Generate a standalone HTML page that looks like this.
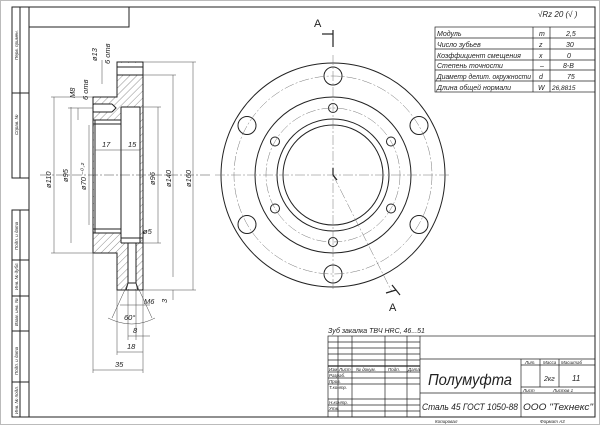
<!DOCTYPE html>
<html><head><meta charset="utf-8"><style>
html,body{margin:0;padding:0;background:#fff}
svg{display:block}
text{font-family:"Liberation Sans","DejaVu Sans",sans-serif;font-style:italic;fill:#222}
</style></head><body>
<svg width="600" height="425" viewBox="0 0 600 425" xmlns="http://www.w3.org/2000/svg">
<defs>
<pattern id="h" width="5" height="5" patternUnits="userSpaceOnUse" patternTransform="rotate(45)">
<line x1="0" y1="0" x2="0" y2="5" stroke="#444" stroke-width="0.6"/></pattern>
</defs>
<rect x="0.5" y="0.5" width="599" height="424" fill="#fff" stroke="#bbb"/>
<g stroke="#222" fill="none" stroke-width="1">
<rect x="29" y="7" width="566" height="410"/>
<rect x="29" y="7" width="100" height="20"/>
<rect x="12" y="7" width="17" height="171"/><line x1="20" y1="7" x2="20" y2="178"/><line x1="12" y1="93" x2="29" y2="93"/>
<rect x="12" y="210" width="17" height="207"/><line x1="20" y1="210" x2="20" y2="417"/>
<line x1="12" y1="260" x2="29" y2="260"/><line x1="12" y1="296" x2="29" y2="296"/><line x1="12" y1="331" x2="29" y2="331"/><line x1="12" y1="382" x2="29" y2="382"/>
</g>
<g font-size="4.5" fill="#444">
<text transform="translate(18,60) rotate(-90)">Перв. примен.</text>
<text transform="translate(18,135) rotate(-90)">Справ. №</text>
<text transform="translate(18,250) rotate(-90)">Подп. и дата</text>
<text transform="translate(18,290) rotate(-90)">Инв. № дубл.</text>
<text transform="translate(18,326) rotate(-90)">Взам. инв. №</text>
<text transform="translate(18,375) rotate(-90)">Подп. и дата</text>
<text transform="translate(18,414) rotate(-90)">Инв. № подл.</text>
</g>
<g stroke="#222" stroke-width="1">
<path d="M117 62H143V290H117V253H93V97H117Z" fill="url(#h)"/>
<rect x="94" y="120" width="27" height="113" fill="#fff" stroke="none"/>
<rect x="121" y="107" width="19" height="136" fill="#fff" stroke="none"/>
<rect x="117.5" y="63" width="25" height="12" fill="#fff" stroke="none"/>
<rect x="128" y="243" width="8" height="46" fill="#fff" stroke="none"/>
<rect x="94" y="104" width="20" height="8" fill="#fff" stroke="none"/>
<path d="M117 62H143V290H117V253H93V97H117Z" fill="none"/>
<line x1="117" y1="67" x2="143" y2="67"/><line x1="117" y1="75" x2="143" y2="75"/>
<line x1="93" y1="104" x2="112" y2="104"/><line x1="93" y1="112" x2="112" y2="112"/><path d="M112 104L116 108L112 112" fill="none"/>
<line x1="95" y1="120" x2="95" y2="233"/><line x1="93" y1="120" x2="121" y2="120"/><line x1="93" y1="233" x2="121" y2="233"/>
<line x1="93" y1="124" x2="121" y2="124"/><line x1="93" y1="229" x2="121" y2="229"/>
<line x1="121" y1="107" x2="121" y2="243"/><line x1="121" y1="107" x2="140" y2="107"/><line x1="140" y1="107" x2="140" y2="243"/>
<line x1="121" y1="243" x2="143" y2="243"/><line x1="121" y1="238" x2="143" y2="238"/>
<line x1="128" y1="243" x2="128" y2="283"/><line x1="136" y1="243" x2="136" y2="283"/><path d="M126 290L128 283H136L138 290" fill="none"/>
</g>
<g stroke="#444" stroke-width="0.5" fill="none">
<line x1="193" y1="62" x2="193" y2="290"/><line x1="143" y1="62" x2="196" y2="62"/><line x1="143" y1="290" x2="196" y2="290"/>
<line x1="173" y1="75" x2="173" y2="277"/><line x1="143" y1="75" x2="176" y2="75"/>
<line x1="158" y1="107" x2="158" y2="243"/><line x1="140" y1="107" x2="161" y2="107"/><line x1="140" y1="243" x2="161" y2="243"/>
<line x1="54" y1="97" x2="54" y2="253"/><line x1="51" y1="97" x2="93" y2="97"/><line x1="51" y1="253" x2="93" y2="253"/>
<line x1="71" y1="107" x2="71" y2="243"/><line x1="68" y1="108" x2="93" y2="108"/>
<line x1="89" y1="125" x2="89" y2="225"/>
<line x1="102" y1="60" x2="102" y2="84"/><line x1="78" y1="108" x2="78" y2="120"/>
<line x1="93" y1="370" x2="143" y2="370"/><line x1="93" y1="253" x2="93" y2="373"/><line x1="143" y1="290" x2="143" y2="373"/>
<line x1="117" y1="352" x2="143" y2="352"/><line x1="117" y1="290" x2="117" y2="355"/>
<line x1="128" y1="336" x2="150" y2="336"/><line x1="128" y1="290" x2="128" y2="340"/><line x1="136" y1="290" x2="136" y2="340"/>
<path d="M108 318Q132 330 155 318"/><line x1="128" y1="283" x2="112" y2="318"/><line x1="136" y1="283" x2="152" y2="318"/>
<line x1="120" y1="305" x2="150" y2="305"/>
<line x1="95" y1="150" x2="140" y2="150"/>
<line x1="40" y1="175" x2="212" y2="175" stroke-dasharray="10 2 2 2"/>
<line x1="173" y1="290" x2="173" y2="300"/>
</g>
<g font-size="7.5">
<text transform="translate(51,188) rotate(-90)">ø110</text>
<text transform="translate(68,182) rotate(-90)">ø95</text>
<text transform="translate(86,190) rotate(-90)">ø70 ⁻⁰·²</text>
<text transform="translate(155,185) rotate(-90)">ø96</text>
<text transform="translate(171,187) rotate(-90)">ø140</text>
<text transform="translate(191,187) rotate(-90)">ø160</text>
<text transform="translate(97,61) rotate(-90)">ø13</text>
<text transform="translate(110,64) rotate(-90)">6 отв</text>
<text transform="translate(75,98) rotate(-90)">М8</text>
<text transform="translate(88,100) rotate(-90)">6 отв</text>
<text x="102" y="147">17</text><text x="128" y="147">15</text>
<text x="143" y="234">ø5</text><text x="144" y="304">М6</text>
<text transform="translate(167,303) rotate(-90)">3</text>
<text x="124" y="320">60°</text><text x="133" y="333">8</text><text x="127" y="349">18</text><text x="115" y="367">35</text>
</g>
<g fill="none" stroke="#222" stroke-width="1">
<circle cx="333" cy="175" r="112"/><circle cx="333" cy="175" r="78"/>
<circle cx="333" cy="175" r="56"/><circle cx="333" cy="175" r="50"/>
<circle cx="333" cy="76" r="9"/><circle cx="333" cy="274" r="9"/>
<circle cx="247" cy="125.5" r="9"/><circle cx="419" cy="125.5" r="9"/>
<circle cx="247" cy="224.5" r="9"/><circle cx="419" cy="224.5" r="9"/>
<circle cx="333" cy="108" r="4.5"/><circle cx="333" cy="242" r="4.5"/>
<circle cx="275" cy="141.5" r="4.5"/><circle cx="391" cy="141.5" r="4.5"/>
<circle cx="275" cy="208.5" r="4.5"/><circle cx="391" cy="208.5" r="4.5"/>
</g>
<g fill="none" stroke="#777" stroke-width="0.5" stroke-dasharray="10 2 2 2">
<circle cx="333" cy="175" r="99"/><circle cx="333" cy="175" r="67"/>
<line x1="215" y1="175" x2="451" y2="175"/><line x1="333" y1="55" x2="333" y2="290"/>
<line x1="333" y1="175" x2="392" y2="292"/>
</g>
<g stroke="#222" stroke-width="1.2" fill="none">
<line x1="333" y1="30" x2="333" y2="47"/><line x1="322" y1="34" x2="333" y2="34"/>
<line x1="333" y1="168" x2="333" y2="175"/><line x1="333" y1="175" x2="337" y2="180"/>
<line x1="392" y1="285" x2="400" y2="295"/><line x1="386" y1="293" x2="396" y2="290"/>
</g>
<text x="314" y="27" font-size="11" style="font-style:normal">А</text>
<text x="389" y="311" font-size="11" style="font-style:normal">А</text>
<text x="538" y="17" font-size="8">√Rz 20 (√ )</text>
<g stroke="#222" stroke-width="0.7" fill="none">
<rect x="435" y="27" width="160" height="65"/>
<line x1="533" y1="27" x2="533" y2="92"/><line x1="550" y1="27" x2="550" y2="92"/>
<line x1="435" y1="38" x2="595" y2="38"/><line x1="435" y1="49" x2="595" y2="49"/><line x1="435" y1="60" x2="595" y2="60"/><line x1="435" y1="70" x2="595" y2="70"/><line x1="435" y1="81" x2="595" y2="81"/>
</g>
<g font-size="7">
<text x="437" y="36">Модуль</text><text x="539" y="36">m</text><text x="566" y="36">2,5</text>
<text x="437" y="47">Число зубьев</text><text x="539" y="47">z</text><text x="566" y="47">30</text>
<text x="437" y="58">Коэффициент смещения</text><text x="539" y="58">x</text><text x="567" y="58">0</text>
<text x="437" y="68">Степень точности</text><text x="540" y="68">–</text><text x="563" y="68">8-В</text>
<text x="437" y="79" textLength="94" lengthAdjust="spacingAndGlyphs">Диаметр делит. окружности</text><text x="539" y="79">d</text><text x="567" y="79">75</text>
<text x="437" y="90">Длина общей нормали</text><text x="538" y="90">W</text><text x="552" y="90" font-size="6.5">26,8815</text>
</g>
<text x="328" y="333" font-size="7">Зуб закалка ТВЧ HRC, 46...51</text>
<g stroke="#222" stroke-width="0.7" fill="none">
<rect x="328" y="336" width="267" height="81"/>
<line x1="420" y1="336" x2="420" y2="417"/><line x1="420" y1="359" x2="595" y2="359"/>
<line x1="420" y1="393" x2="595" y2="393"/>
<line x1="521" y1="359" x2="521" y2="417"/><line x1="540" y1="359" x2="540" y2="387"/><line x1="559" y1="359" x2="559" y2="387"/>
<line x1="521" y1="365" x2="595" y2="365"/><line x1="521" y1="387" x2="595" y2="387"/>
<line x1="338" y1="336" x2="338" y2="417"/><line x1="352" y1="336" x2="352" y2="417"/><line x1="385" y1="336" x2="385" y2="417"/><line x1="407" y1="336" x2="407" y2="417"/>
<line x1="328" y1="342" x2="420" y2="342"/><line x1="328" y1="348" x2="420" y2="348"/><line x1="328" y1="354" x2="420" y2="354"/>
<line x1="328" y1="360" x2="420" y2="360"/><line x1="328" y1="366" x2="420" y2="366" stroke-width="1.2"/>
<line x1="328" y1="372" x2="420" y2="372"/><line x1="328" y1="378" x2="420" y2="378"/><line x1="328" y1="384" x2="420" y2="384"/>
<line x1="328" y1="399" x2="420" y2="399"/><line x1="328" y1="405" x2="420" y2="405"/><line x1="328" y1="411" x2="420" y2="411"/>
</g>
<g font-size="4.5" fill="#333">
<text x="329" y="371">Изм</text><text x="339" y="371">Лист</text><text x="356" y="371">№ докум.</text><text x="388" y="371">Подп.</text><text x="408" y="371">Дата</text>
<text x="329" y="377">Разраб.</text><text x="329" y="383">Пров.</text><text x="329" y="389">Т.контр.</text><text x="329" y="404">Н.контр.</text><text x="329" y="410">Утв.</text>
<text x="525" y="364">Лит.</text><text x="543" y="364">Масса</text><text x="561" y="364">Масштаб</text>
<text x="523" y="392">Лист</text><text x="553" y="392">Листов 1</text>
<text x="435" y="423">Копировал</text><text x="540" y="423">Формат  А3</text>
</g>
<text x="428" y="385" font-size="16" textLength="84" lengthAdjust="spacingAndGlyphs">Полумуфта</text>
<text x="422" y="410" font-size="9.5" textLength="96" lengthAdjust="spacingAndGlyphs">Сталь 45 ГОСТ 1050-88</text>
<text x="523" y="410" font-size="9.5" textLength="70" lengthAdjust="spacingAndGlyphs">ООО "Технекс"</text>
<text x="544" y="381" font-size="7">2кг</text><text x="572" y="381" font-size="8">11</text>
</svg>
</body></html>
